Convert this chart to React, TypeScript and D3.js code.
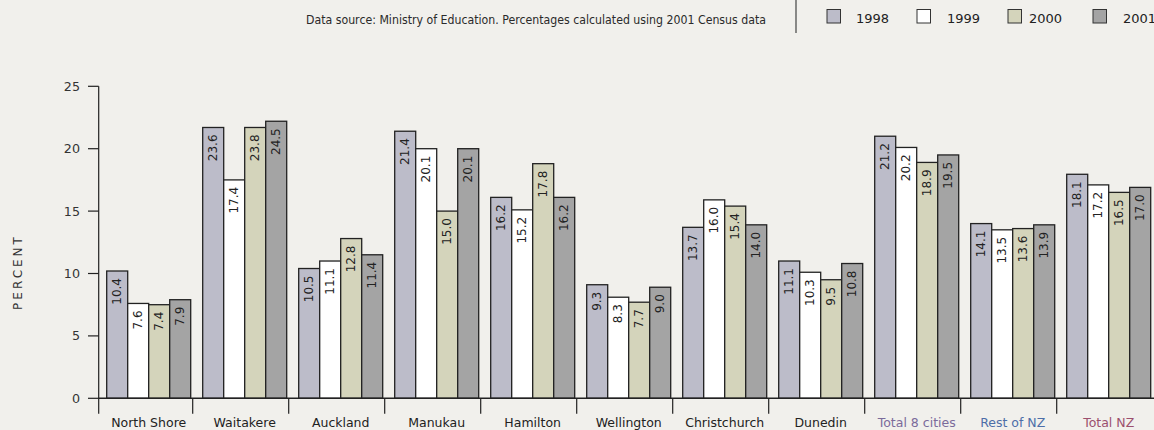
import * as d3 from "d3";

const categories = [
  "North Shore", "Waitakere", "Auckland", "Manukau", "Hamilton", "Wellington",
  "Christchurch", "Dunedin", "Total 8 cities", "Rest of NZ", "Total NZ",
];
const years = ["1998", "1999", "2000", "2001"];

// printed values
const labels1998 = [10.4, 23.6, 10.5, 21.4, 16.2, 9.3, 13.7, 11.1, 21.2, 14.1, 18.1];
const labels1999 = [7.6, 17.4, 11.1, 20.1, 15.2, 8.3, 16.0, 10.3, 20.2, 13.5, 17.2];
const labels2000 = [7.4, 23.8, 12.8, 15.0, 17.8, 7.7, 15.4, 9.5, 18.9, 13.6, 16.5];
const labels2001 = [7.9, 24.5, 11.4, 20.1, 16.2, 9.0, 14.0, 10.8, 19.5, 13.9, 17.0];

// bar heights as drawn in the picture
const heights1998 = [10.2, 21.7, 10.4, 21.4, 16.1, 9.1, 13.7, 11.0, 21.0, 14.0, 17.95];
const heights1999 = [7.6, 17.5, 11.0, 20.0, 15.1, 8.1, 15.9, 10.1, 20.1, 13.5, 17.1];
const heights2000 = [7.5, 21.7, 12.8, 15.0, 18.8, 7.7, 15.4, 9.5, 18.9, 13.6, 16.5];
const heights2001 = [7.9, 22.2, 11.5, 20.0, 16.1, 8.9, 13.9, 10.8, 19.5, 13.9, 16.9];

const yTicks = [0, 5, 10, 15, 20, 25];

const labelsByYear = [labels1998, labels1999, labels2000, labels2001];
const heightsByYear = [heights1998, heights1999, heights2000, heights2001];

const W = 1154;
const H = 430;
const BG = "#f1f0ec";
const FONT = "DejaVu Sans, sans-serif";
const yearColors = ["#bcbcc9", "#ffffff", "#d4d4bb", "#a4a4a4"];
const catColors: Record<string, string> = {
  "Total 8 cities": "#7b6b9b",
  "Rest of NZ": "#4d6ea8",
  "Total NZ": "#9c4f6e",
};
const legendSquareX = [827, 917, 1008, 1093];
const legendTextX = [856, 947, 1029, 1123];

export default function App() {
  const axisX = 98.7;
  const x0 = d3
    .scaleBand<string>()
    .domain(categories)
    .range([100.7, 100.7 + 96 * categories.length])
    .paddingInner(0)
    .paddingOuter(0);
  const x1 = d3.scaleBand<string>().domain(years).range([6, 90]);
  const y = d3.scaleLinear().domain([0, 25]).range([398.3, 86.3]);

  return (
    <div style={{ position: "fixed", left: 0, top: 0, width: W, height: H, background: BG }}>
      <svg width={W} height={H} style={{ display: "block", fontFamily: FONT }}>
        <rect width={W} height={H} fill={BG} />

        {/* header */}
        <text
          x={766}
          y={24}
          textAnchor="end"
          fontSize={12}
          fill="#2a2a2a"
          textLength={460}
          lengthAdjust="spacingAndGlyphs"
        >
          Data source: Ministry of Education. Percentages calculated using 2001 Census data
        </text>
        <line x1={796} x2={796} y1={0} y2={33} stroke="#444" strokeWidth={1.2} />

        {years.map((yr, i) => (
          <g key={yr}>
            <rect
              x={legendSquareX[i]}
              y={9.5}
              width={13.5}
              height={13.5}
              fill={yearColors[i]}
              stroke="#333"
              strokeWidth={1}
            />
            <text x={legendTextX[i]} y={22.5} fontSize={13} fill="#222">
              {yr}
            </text>
          </g>
        ))}

        {/* y axis */}
        <line x1={axisX} x2={axisX} y1={y(25)} y2={413.7} stroke="#222" strokeWidth={1.2} />
        {yTicks.map((t) => (
          <g key={t}>
            <line x1={88} x2={axisX} y1={y(t)} y2={y(t)} stroke="#222" strokeWidth={1.2} />
            <text x={80} y={y(t)} dy="0.36em" textAnchor="end" fontSize={12.7} fill="#333">
              {t}
            </text>
          </g>
        ))}
        <text
          transform={`translate(22,272) rotate(-90)`}
          textAnchor="middle"
          fontSize={12}
          letterSpacing={3}
          fill="#333"
        >
          PERCENT
        </text>

        {/* bars */}
        {categories.map((c, ci) => (
          <g key={c} transform={`translate(${x0(c)},0)`}>
            {years.map((yr, yi) => {
              const h = heightsByYear[yi][ci];
              const bx = x1(yr)!;
              const bw = x1.bandwidth();
              return (
                <g key={yr}>
                  <rect
                    x={bx}
                    y={y(h)}
                    width={bw}
                    height={y(0) - y(h)}
                    fill={yearColors[yi]}
                    stroke="#222"
                    strokeWidth={1.3}
                  />
                  <text
                    transform={`translate(${bx + bw / 2},${y(h) + 7}) rotate(-90)`}
                    textAnchor="end"
                    dominantBaseline="central"
                    fontSize={12}
                    fill="#222"
                  >
                    {labelsByYear[yi][ci].toFixed(1)}
                  </text>
                </g>
              );
            })}
          </g>
        ))}

        {/* x axis */}
        <line x1={axisX} x2={W} y1={y(0)} y2={y(0)} stroke="#222" strokeWidth={1.4} />
        {categories.slice(1).map((c) => (
          <line
            key={c}
            x1={x0(c)! - 4}
            x2={x0(c)! - 4}
            y1={y(0)}
            y2={413.7}
            stroke="#222"
            strokeWidth={1.2}
          />
        ))}
        {categories.map((c) => (
          <text
            key={c}
            x={x0(c)! + x0.bandwidth() / 2}
            y={427}
            textAnchor="middle"
            fontSize={12.5}
            fill={catColors[c] || "#222"}
          >
            {c}
          </text>
        ))}
      </svg>
    </div>
  );
}
